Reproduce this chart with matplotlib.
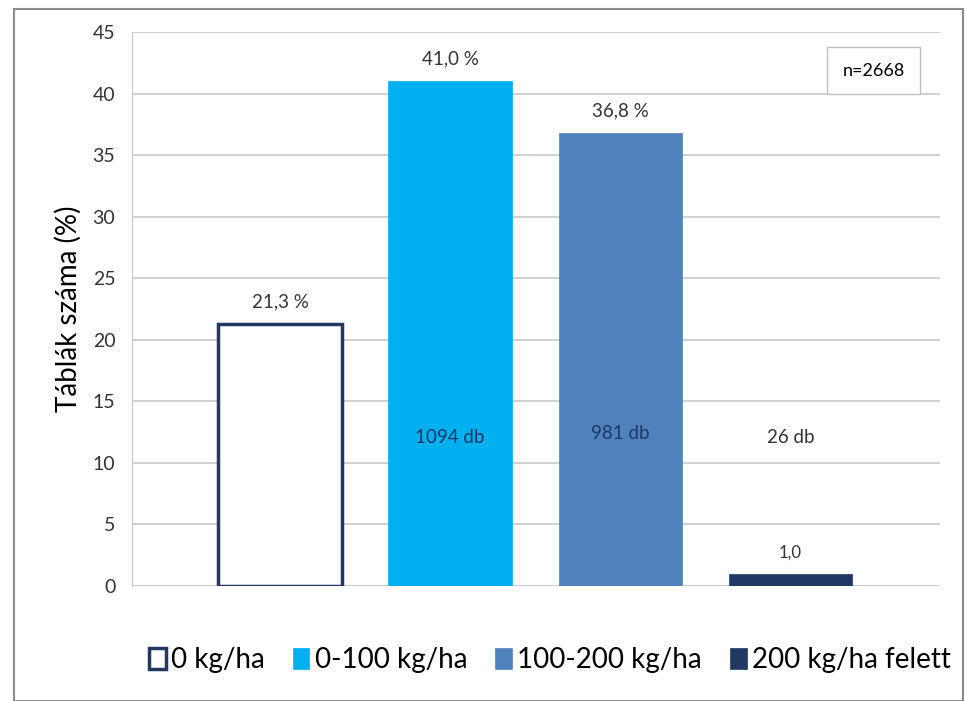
import matplotlib.pyplot as plt
from matplotlib.patches import Rectangle

plt.rcParams['font.family'] = ['Lato', 'DejaVu Sans']

categories = ['0 kg/ha', '0-100 kg/ha', '100-200 kg/ha', '200 kg/ha felett']
shares = [21.3, 41.0, 36.8, 1.0]
share_labels = ['21,3 %', '41,0 %', '36,8 %', '1,0']
counts = ['', '1094 db', '981 db', '26 db']
count_y = [None, 12.1, 12.4, 12.1]
faces = ['white', '#00B0F0', '#4F81BD', '#1F3864']
edges = ['#1F3864', '#00B0F0', '#4F81BD', '#1F3864']
W, H = 965, 701

fig = plt.figure(figsize=(W / 100, H / 100), dpi=100)
fig.patches.append(Rectangle((14 / W, 0), (963 - 14) / W, (H - 9) / H,
                             transform=fig.transFigure, fill=False,
                             edgecolor='#8c8c8c', lw=1.5))

ax = fig.add_axes([132 / W, 1 - 586 / H, (940 - 132) / W, (586 - 32) / H])
x = list(range(len(categories)))
bars = ax.bar(x, shares, width=0.725, color=faces, edgecolor=edges,
              linewidth=[2.5, 0.5, 0.5, 0.5], label=categories, zorder=3)

ax.set_ylim(0, 45)
ax.set_xlim(-0.87, 3.88)
ax.set_yticks(range(0, 46, 5))
ax.tick_params(axis='y', labelsize=14, length=0, pad=12, colors='#333333')
ax.set_xticks([])
ax.grid(axis='y', color='#c8c8c8', lw=1.2, zorder=0)
for s in ['top', 'right', 'bottom']:
    ax.spines[s].set_visible(False)
ax.spines['left'].set_color('#c8c8c8')
ax.axhline(0, color='#c8c8c8', lw=1.2, zorder=1)
ax.set_ylabel('Táblák száma (%)', fontsize=20, labelpad=8)

for i, b in enumerate(bars):
    ax.text(b.get_x() + b.get_width() / 2, shares[i] + 1.1, share_labels[i],
            ha='center', va='bottom', fontsize=13.5 if i < 3 else 12,
            color='#333333')
    if counts[i]:
        ax.text(b.get_x() + b.get_width() / 2, count_y[i], counts[i],
                ha='center', va='center', fontsize=13.5,
                color='#1F3864' if i < 3 else '#333333')

ax.text(0.918, 0.93, 'n=2668', transform=ax.transAxes, ha='center',
        va='center', fontsize=13,
        bbox=dict(boxstyle='square,pad=0.85', fc='white', ec='#bfbfbf', lw=1))

fig.legend(handles=bars, labels=categories, loc='center',
           bbox_to_anchor=(550 / W, 1 - 660 / H), ncol=4, frameon=False,
           fontsize=20, handlelength=0.6, handleheight=0.8,
           handletextpad=0.2, columnspacing=1.0)

fig.savefig('out.png', dpi=100)
